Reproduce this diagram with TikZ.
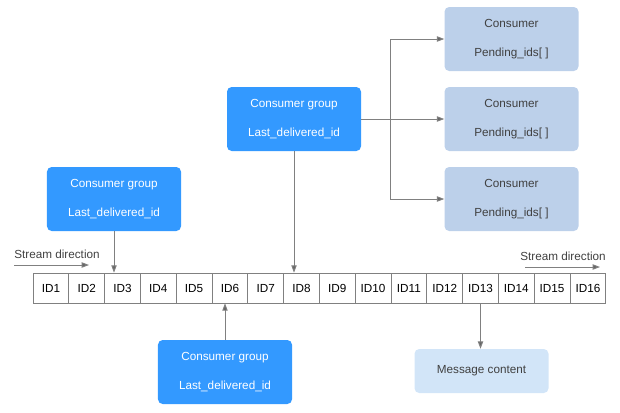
\documentclass[tikz,border=0pt]{standalone}
\usepackage{fontspec}
\setmainfont{Liberation Sans}
\usetikzlibrary{arrows.meta,positioning}
\definecolor{grpblue}{RGB}{51,153,255}
\definecolor{conblue}{RGB}{188,208,234}
\definecolor{msgblue}{RGB}{210,229,248}
\definecolor{linegray}{RGB}{128,128,128}
\definecolor{txtgray}{RGB}{64,64,64}
\newcommand{\txt}{\fontsize{10}{12}\selectfont}
\tikzset{
  bloc/.style={rounded corners=4pt,align=center,minimum width=4.02cm,
    minimum height=1.92cm,inner sep=0pt,font=\txt},
  grp/.style={bloc,fill=grpblue,text=white},
  cons/.style={bloc,fill=conblue,text=txtgray},
  msg/.style={bloc,fill=msgblue,text=txtgray,minimum height=1.32cm},
  cell/.style={draw=linegray,line width=0.6pt,minimum width=1.074cm,
    minimum height=0.9cm,inner sep=0pt,font=\txt,text=black,
    text height=7.2pt,text depth=0pt},
  ln/.style={draw=linegray,line width=0.8pt},
  fl/.style={ln,-{Triangle[length=2.2mm,width=1.6mm,fill=txtgray!80]}},
  lbl/.style={font=\txt,text=txtgray,inner sep=0pt},
}

\begin{document}
\begin{tikzpicture}[x=0.03cm,y=-0.03cm]
  \useasboundingbox (0,0) rectangle (620,412);
  % consumer groups
  \node[grp] (gtop) at (294,119) {Consumer group\\[13pt]Last\_delivered\_id};
  \node[grp] (gleft) at (114,199) {Consumer group\\[13pt]Last\_delivered\_id};
  \node[grp] (gbot) at (225,372) {Consumer group\\[13pt]Last\_delivered\_id};
  % consumers
  \node[cons] (cons1) at (511.5,39) {Consumer\\[13pt]Pending\_ids[ ]};
  \node[cons] (cons2) at (511.5,119) {Consumer\\[13pt]Pending\_ids[ ]};
  \node[cons] (cons3) at (511.5,199) {Consumer\\[13pt]Pending\_ids[ ]};
  \node[msg] (msg) at (481.5,371) {Message content};
  % stream
  \foreach \i in {1,...,16}
    \node[cell] (id\i) at ({33+35.8*(\i-0.5)},288) {ID\i};
  \node[lbl] (sdl) at (57,254) {Stream direction};
  \node[lbl] (sdr) at (563,256) {Stream direction};
  \coordinate (sdl1) at (14,265); \coordinate (sdl2) at (89,265);
  \coordinate (sdr1) at (525,267); \coordinate (sdr2) at (600,267);
  \draw[fl] (sdl1) -- (sdl2);
  \draw[fl] (sdr1) -- (sdr2);
  % connectors
  \coordinate (jn) at (390,119);
  \draw[ln] (gtop.east) -- (jn);
  \draw[fl] (jn) -- (cons2.west);
  \draw[fl] (jn) |- (cons1.west);
  \draw[fl] (jn) |- (cons3.west);
  \draw[fl] (gtop.south) -- (gtop |- id1.north);
  \draw[fl] (gleft.south) -- (gleft |- id1.north);
  \draw[fl] (gbot.north) -- (gbot |- id1.south);
  \draw[fl] (id13.south) -- (id13.south |- msg.north);
\end{tikzpicture}
\end{document}
